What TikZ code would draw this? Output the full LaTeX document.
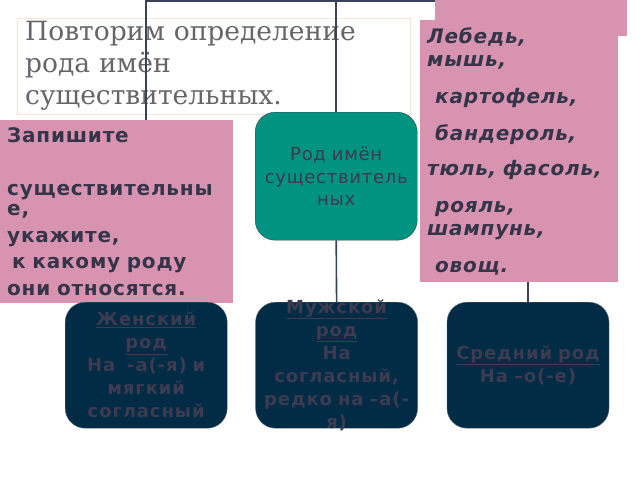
\documentclass[tikz,border=0pt]{standalone}
\usepackage{fontspec}
\setmainfont{DejaVu Serif}
\setsansfont{DejaVu Sans}
\usetikzlibrary{positioning}

\definecolor{rosa}{HTML}{D893B0}
\definecolor{teal}{HTML}{00937F}
\definecolor{navy}{HTML}{022B46}
\definecolor{ink}{HTML}{35354A}
\definecolor{dim}{HTML}{3C3B50}
\definecolor{wire}{HTML}{384258}

\begin{document}
\begin{tikzpicture}[x=1pt,y=-1pt,
    link/.style={draw=wire,line width=1.6pt},
    pinkbox/.style={fill=rosa,inner xsep=7pt,inner ysep=0pt,anchor=north west,
        align=left,text=ink,
        font=\sffamily\bfseries\addfontfeature{LetterSpace=4}\fontsize{20}{20}\selectfont},
    rodbox/.style={fill=navy,draw=gray!70!navy,rounded corners=20pt,
        minimum width=162,minimum height=126,inner sep=0pt,text width=160pt,
        align=center,text=dim,
        font=\sffamily\bfseries\addfontfeature{LetterSpace=5}\fontsize{18}{23}\selectfont}]
    \useasboundingbox[fill=white] (0,0) rectangle (640,480);

    \node[draw=orange!15!brown!20,fill=white,anchor=north west,minimum width=393,
        minimum height=92,inner xsep=8pt,text width=377pt,align=left,text=black!60,
        font=\fontsize{26.5}{32}\selectfont] (title) at (17,18)
        {Повторим определение\\рода имён\\существительных.};

    \coordinate (jl) at (146,1);
    \node[fill=rosa,minimum width=192,minimum height=36,anchor=north west,inner sep=0pt]
        (tag) at (435,0) {};

    \node[pinkbox,minimum width=233,minimum height=183,text width=219pt] (task) at (0,120)
        {Запишите\\[33pt]существительны\\е,\\[6.5pt]укажите,\\[6.5pt]
         \hspace*{5pt}к какому роду\\[6.5pt]они относятся.};

    \node[pinkbox,minimum width=198,minimum height=262,text width=184pt,
        font=\sffamily\bfseries\itshape\addfontfeature{LetterSpace=4}\fontsize{20}{23}\selectfont]
        (words) at (420,20)
        {Лебедь,\\мышь,\\[14pt]\hspace*{8pt}картофель,\\[14pt]\hspace*{8pt}бандероль,\\[12pt]
         тюль, фасоль,\\[14pt]\hspace*{8pt}рояль,\\шампунь,\\[14pt]\hspace*{8pt}овощ.};

    \node[fill=teal,draw=wire,rounded corners=20pt,minimum width=162,minimum height=128,
        anchor=north west,inner sep=0pt,text width=160pt,align=center,text=dim,
        font=\sffamily\addfontfeature{LetterSpace=4}\fontsize{18}{22.5}\selectfont]
        (rod) at (255,112) {Род имён\\существитель\\ных};

    \node[rodbox,anchor=north west] (fem) at (65,302)
        {\underline{Женский}\\\underline{род}\\На\ \ -а(-я) и\\мягкий\\согласный};
    \node[rodbox,inner ysep=-4pt,right=28pt of fem] (masc)
        {\underline{Мужской}\\\underline{род}\\На\\согласный,\\редко на –а(-\\я)};
    \node[rodbox,right=29pt of masc] (neut)
        {\underline{Средний род}\\На –о(-е)};

    \draw[link] (task.north -| jl) -- (jl) -- (jl -| tag.west);
    \draw[link] (rod.north) -- (rod.north |- jl);
    \draw[link] (rod.south) -- (masc.north);
    \draw[link] (words.south -| neut.north) -- (neut.north);
\end{tikzpicture}
\end{document}
